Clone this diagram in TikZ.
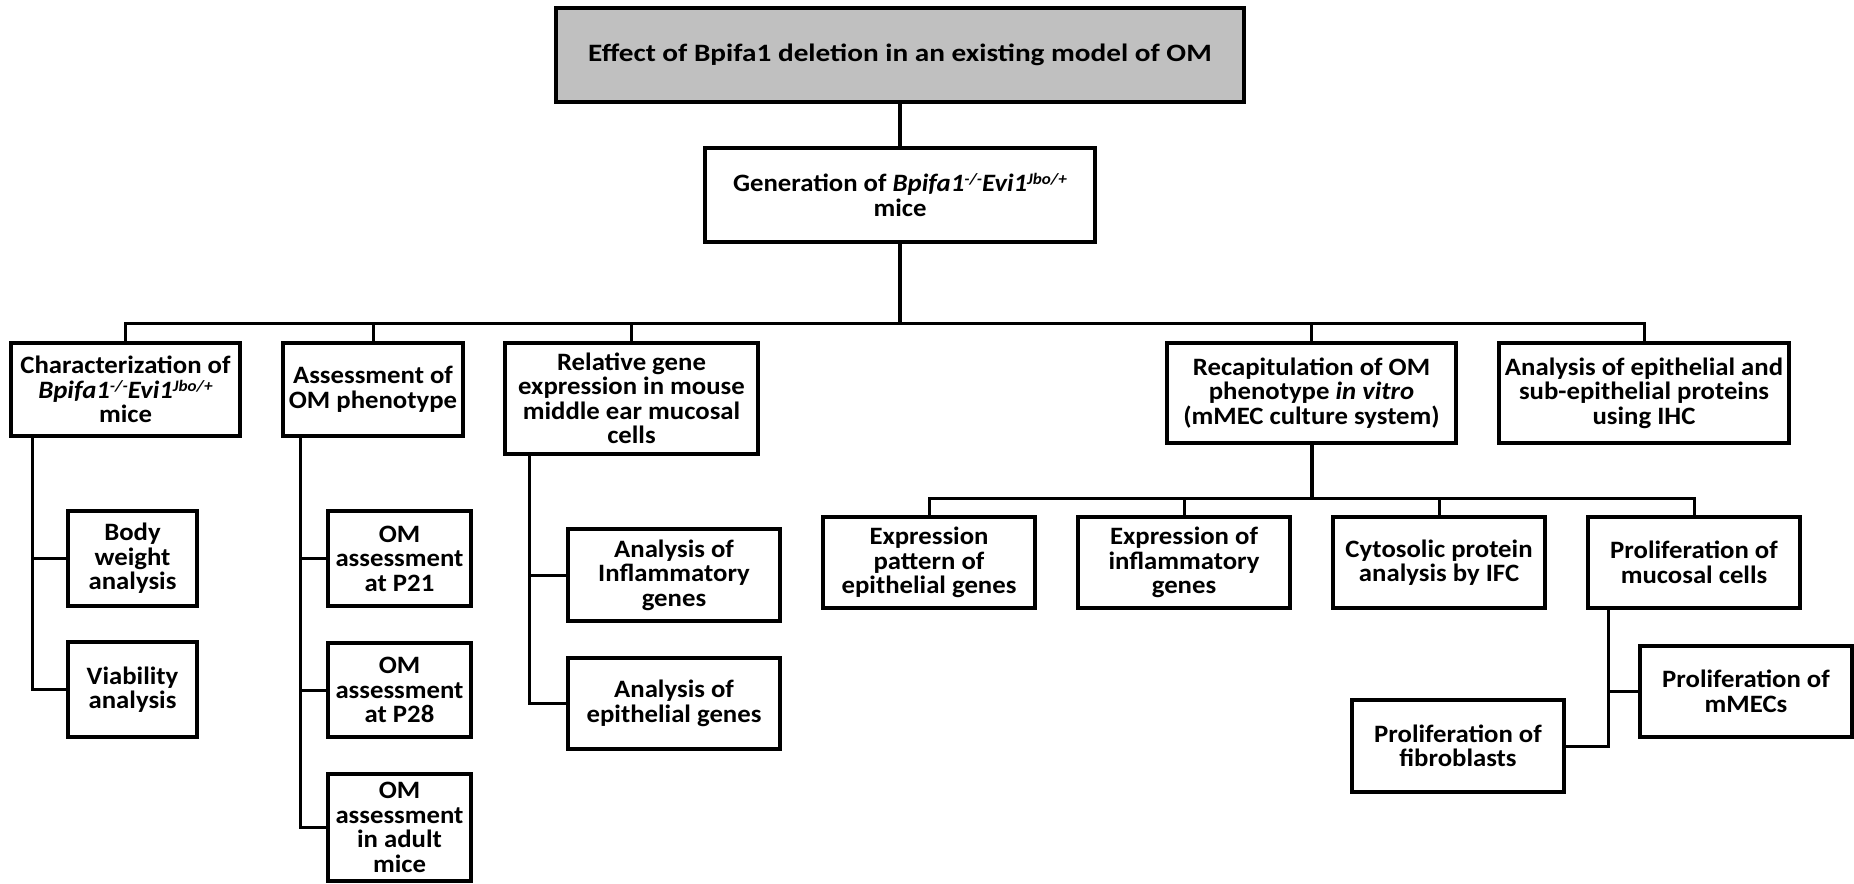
\documentclass[tikz,border=0pt]{standalone}
\usepackage{fontspec}
\setmainfont{Carlito}[FakeStretch=1.07]
\newfontfamily\titrefont{Carlito}[FakeStretch=1.17]
\definecolor{grisTitre}{RGB}{192,192,192}
\newcommand{\exposant}[1]{\raisebox{0.55ex}{\fontsize{16}{16}\selectfont #1}}
\newcommand{\souris}{\textit{Bpifa1\exposant{-/-}Evi1\exposant{Jbo/+}}}

\tikzset{
boite/.style={draw, line width=3.2pt, align=center, inner sep=0pt,
  font=\fontsize{25}{24.5}\selectfont\bfseries},
lien/.style={line width=3pt},
tronc/.style={line width=4pt}
}

\begin{document}
\begin{tikzpicture}[x=1pt, y=-1pt]
\useasboundingbox (0,0) rectangle (1854,883);

% Titre
\node[boite, fill=grisTitre, minimum width=688pt, minimum height=94pt,
  font=\titrefont\fontsize{25}{24.5}\selectfont\bfseries] (titre) at (900,55)
{Effect of Bpifa1 deletion in an existing model of OM};

% Generation
\node[boite, minimum width=390pt, minimum height=94pt] (gen) at (900,195)
{Generation of \souris\\mice};

% Deuxieme niveau
\node[boite, minimum width=229pt, minimum height=93pt] (carac) at (125.5,389.5)
{Characterization of\\\souris\\mice};
\node[boite, minimum width=180pt, minimum height=93pt] (evalOM) at (373,389.5)
{Assessment of\\OM phenotype};
\node[boite, minimum width=253pt, minimum height=111pt] (expr) at (631.5,398.5)
{Relative gene\\expression in mouse\\middle ear mucosal\\cells};
\node[boite, minimum width=289pt, minimum height=100pt] (recap) at (1311.5,393)
{Recapitulation of OM\\phenotype \textit{in vitro}\\(mMEC culture system)};
\node[boite, minimum width=290pt, minimum height=100pt] (ihc) at (1644,393)
{Analysis of epithelial and\\sub-epithelial proteins\\using IHC};

% Caracterisation
\node[boite, minimum width=129pt, minimum height=95pt] (poids) at (132.5,558.5)
{Body\\weight\\analysis};
\node[boite, minimum width=129pt, minimum height=95pt] (viab) at (132.5,689.5)
{Viability\\analysis};

% Phenotype OM
\node[boite, minimum width=143pt, minimum height=95pt] (p21) at (399.5,558.5)
{OM\\assessment\\at P21};
\node[boite, minimum width=143pt, minimum height=94pt] (p28) at (399.5,690)
{OM\\assessment\\at P28};
\node[boite, minimum width=143pt, minimum height=107pt] (adulte) at (399.5,827.5)
{OM\\assessment\\in adult\\mice};

% Expression genique
\node[boite, minimum width=212pt, minimum height=92pt] (inflam) at (674,575)
{Analysis of\\Inflammatory\\genes};
\node[boite, minimum width=212pt, minimum height=91pt] (epith) at (674,703.5)
{Analysis of\\epithelial genes};

% Culture mMEC
\node[boite, minimum width=212pt, minimum height=91pt] (expat) at (929,562.5)
{Expression\\pattern of\\epithelial genes};
\node[boite, minimum width=212pt, minimum height=91pt] (exinf) at (1184,562.5)
{Expression of\\inflammatory\\genes};
\node[boite, minimum width=212pt, minimum height=91pt] (cyto) at (1439,562.5)
{Cytosolic protein\\analysis by IFC};
\node[boite, minimum width=212pt, minimum height=91pt] (prolif) at (1694,562.5)
{Proliferation of\\mucosal cells};

\node[boite, minimum width=212pt, minimum height=91pt] (mmec) at (1746,691.5)
{Proliferation of\\mMECs};
\node[boite, minimum width=212pt, minimum height=92pt] (fibro) at (1458,746)
{Proliferation of\\fibroblasts};

% Liens principaux
\coordinate (bus) at (0,323);
\coordinate (bus2) at (0,498);
\draw[tronc] (titre.south) -- (gen.north);
\draw[tronc] (gen.south) -- (gen.south |- bus);
\draw[lien] (carac.north) |- (bus -| ihc.north) -- (ihc.north);
\foreach \n in {evalOM, expr, recap}
{
\draw[lien] (\n.north) -- (\n.north |- bus);
}

\draw[tronc] (recap.south) -- (recap.south |- bus2);
\draw[lien] (expat.north) |- (bus2 -| prolif.north) -- (prolif.north);
\foreach \n in {exinf, cyto}
{
\draw[lien] (\n.north) -- (\n.north |- bus2);
}

% Branches laterales
\coordinate (caracT) at ([xshift=23pt]carac.south west);
\draw[lien] (caracT) |- (viab.west);
\draw[lien] (poids.west) -- (poids.west -| caracT);

\coordinate (evalT) at ([xshift=19pt]evalOM.south west);
\draw[lien] (evalT) |- (adulte.west);
\foreach \n in {p21, p28}
{
\draw[lien] (\n.west) -- (\n.west -| evalT);
}

\coordinate (exprT) at ([xshift=26pt]expr.south west);
\draw[lien] (exprT) |- (epith.west);
\draw[lien] (inflam.west) -- (inflam.west -| exprT);

\coordinate (prolifT) at ([xshift=22pt]prolif.south west);
\draw[lien] (prolifT) |- (fibro.east);
\draw[lien] (mmec.west) -- (mmec.west -| prolifT);

\end{tikzpicture}
\end{document}
